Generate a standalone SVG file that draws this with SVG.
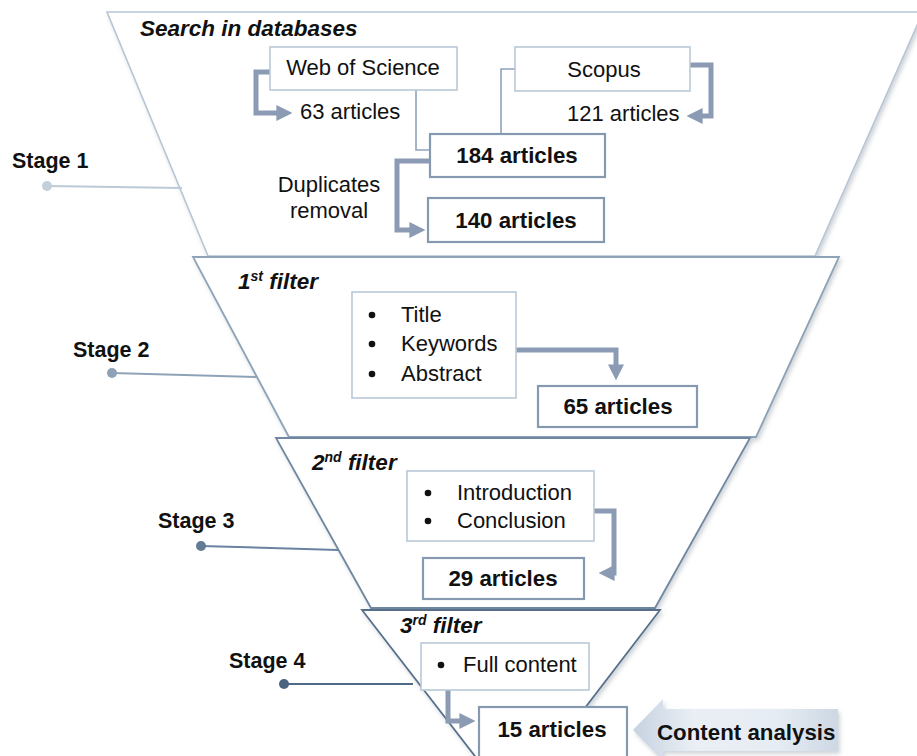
<svg xmlns="http://www.w3.org/2000/svg" width="917" height="756" viewBox="0 0 917 756">
  <defs>
    <filter id="shadow" x="-10%" y="-10%" width="120%" height="130%">
      <feDropShadow dx="2" dy="3" stdDeviation="2" flood-color="#7a8590" flood-opacity="0.35"/>
    </filter>
    <linearGradient id="ca-grad" x1="0" y1="0" x2="1" y2="0">
      <stop offset="0" stop-color="#c6d2e0"/>
      <stop offset="0.3" stop-color="#eaeff5"/>
      <stop offset="0.7" stop-color="#e6ecf3"/>
      <stop offset="1" stop-color="#cdd8e4"/>
    </linearGradient>
    <marker id="head" viewBox="0 0 10 10" refX="6" refY="5" markerWidth="3.2" markerHeight="3.2" orient="auto" markerUnits="strokeWidth">
      <path d="M0,0 L10,5 L0,10 Z" fill="#8a9bb3"/>
    </marker>
  </defs>
  <style>
    text { font-family: "Liberation Sans", Arial, sans-serif; fill: #111; }
    .stage { font-size: 21.5px; font-weight: bold; }
    .title { font-size: 22.5px; font-weight: bold; font-style: italic; }
    .reg { font-size: 22px; }
    .bold { font-size: 22.3px; font-weight: bold; }
    .box-light { fill: #fff; stroke: #b9c8d8; stroke-width: 1.6; }
    .box-dark { fill: #fff; stroke: #8599b1; stroke-width: 2.2; }
    .thin { fill: none; stroke: #8ea3ba; stroke-width: 1.6; }
    .thick { fill: none; stroke: #8a9bb3; stroke-width: 5; marker-end: url(#head); }
  </style>

  <rect width="917" height="756" fill="#ffffff"/>

  <!-- funnel layers -->
  <g id="funnel">
    <polygon points="107,12 923,12 815,256 208,256" fill="#fff" stroke="#b7c6d5" stroke-width="1.6" filter="url(#shadow)"/>
    <polygon points="193,257 839,257 756,437 289,437" fill="#fff" stroke="#8fa3b8" stroke-width="1.8" filter="url(#shadow)"/>
    <polygon points="276,438 750,438 655,608 371,608" fill="#fff" stroke="#6f87a0" stroke-width="1.8" filter="url(#shadow)"/>
    <polygon points="362,610 660,610 545,760 478,760" fill="#fff" stroke="#56708c" stroke-width="1.8" filter="url(#shadow)"/>
  </g>

  <!-- stage markers -->
  <g id="stage1">
    <line x1="47" y1="186" x2="182" y2="188" stroke="#bccad8" stroke-width="2"/>
    <circle cx="47" cy="186" r="5" fill="#c3cfdb"/>
    <text class="stage" x="12" y="168">Stage 1</text>
  </g>
  <g id="stage2">
    <line x1="112" y1="373" x2="257" y2="377" stroke="#8fa3b8" stroke-width="2"/>
    <circle cx="112" cy="373" r="5" fill="#8ea2b7"/>
    <text class="stage" x="73" y="357">Stage 2</text>
  </g>
  <g id="stage3">
    <line x1="201" y1="546" x2="338" y2="550" stroke="#6b83a0" stroke-width="2"/>
    <circle cx="201" cy="546" r="5" fill="#637c96"/>
    <text class="stage" x="158" y="528">Stage 3</text>
  </g>
  <g id="stage4">
    <line x1="284" y1="684" x2="413" y2="684" stroke="#4f6a86" stroke-width="2"/>
    <circle cx="284" cy="684" r="5" fill="#4a6480"/>
    <text class="stage" x="229" y="668">Stage 4</text>
  </g>

  <!-- section titles -->
  <g id="titles">
    <text class="title" x="140" y="36">Search in databases</text>
    <text class="title" x="238" y="289">1<tspan font-size="14" dy="-8">st</tspan><tspan dy="8"> filter</tspan></text>
    <text class="title" x="312" y="470">2<tspan font-size="14" dy="-8">nd</tspan><tspan dy="8"> filter</tspan></text>
    <text class="title" x="400" y="633">3<tspan font-size="14" dy="-8">rd</tspan><tspan dy="8"> filter</tspan></text>
  </g>

  <!-- connectors -->
  <g id="connectors">
    <path class="thin" d="M416,90 V150 H430"/>
    <path class="thin" d="M501,134 V69 H515"/>
    <path class="thick" d="M270,72 H256 V113 H286"/>
    <path class="thick" d="M690,65 H711 V116 H693"/>
    <path class="thick" d="M430,161 H397 V230 H419"/>
    <path class="thick" d="M516,350 H616 V374"/>
    <path class="thick" d="M594,511 H614 V573 H605"/>
    <path class="thick" d="M448,690 V721 H469"/>
  </g>

  <!-- stage 1 nodes -->
  <g id="web-of-science">
    <rect class="box-light" x="270" y="47" width="187" height="43"/>
    <text class="reg" x="363" y="75" text-anchor="middle" font-size="20.5">Web of Science</text>
  </g>
  <g id="scopus">
    <rect class="box-light" x="515" y="47" width="175" height="44"/>
    <text class="reg" x="604" y="77" text-anchor="middle" font-size="21.5">Scopus</text>
  </g>
  <g id="wos-count">
    <text class="reg" x="300" y="119">63 articles</text>
  </g>
  <g id="scopus-count">
    <text class="reg" x="567" y="121">121 articles</text>
  </g>
  <g id="a184">
    <rect class="box-dark" x="430" y="134" width="175" height="43"/>
    <text class="bold" x="517" y="163" text-anchor="middle">184 articles</text>
  </g>
  <g id="duplicates">
    <text class="reg" x="329" y="192" text-anchor="middle">Duplicates</text>
    <text class="reg" x="329" y="218" text-anchor="middle">removal</text>
  </g>
  <g id="a140">
    <rect class="box-dark" x="428" y="198" width="176" height="44"/>
    <text class="bold" x="516" y="228" text-anchor="middle">140 articles</text>
  </g>

  <!-- stage 2 nodes -->
  <g id="filter1-criteria">
    <rect class="box-light" x="352" y="292" width="164" height="106"/>
    <circle cx="372" cy="315" r="3.3" fill="#111"/>
    <circle cx="372" cy="344" r="3.3" fill="#111"/>
    <circle cx="372" cy="374" r="3.3" fill="#111"/>
    <text class="reg" x="401" y="322">Title</text>
    <text class="reg" x="401" y="351">Keywords</text>
    <text class="reg" x="401" y="381">Abstract</text>
  </g>
  <g id="a65">
    <rect class="box-dark" x="538" y="386" width="159" height="41"/>
    <text class="bold" x="618" y="414" text-anchor="middle">65 articles</text>
  </g>

  <!-- stage 3 nodes -->
  <g id="filter2-criteria">
    <rect class="box-light" x="407" y="471" width="187" height="70"/>
    <circle cx="428" cy="493" r="3.3" fill="#111"/>
    <circle cx="428" cy="521" r="3.3" fill="#111"/>
    <text class="reg" x="457" y="500">Introduction</text>
    <text class="reg" x="457" y="528">Conclusion</text>
  </g>
  <g id="a29">
    <rect class="box-dark" x="423" y="558" width="161" height="41"/>
    <text class="bold" x="503" y="586" text-anchor="middle">29 articles</text>
  </g>

  <!-- stage 4 nodes -->
  <g id="filter3-criteria">
    <rect class="box-light" x="421" y="643" width="168" height="47"/>
    <circle cx="441" cy="665" r="3.3" fill="#111"/>
    <text class="reg" x="463" y="672" font-size="21">Full content</text>
  </g>
  <g id="a15">
    <rect class="box-dark" x="479" y="707" width="148" height="52"/>
    <text class="bold" x="552" y="737" text-anchor="middle">15 articles</text>
  </g>
  <g id="content-analysis">
    <polygon points="633,730 663,699 663,709 838,709 838,751 663,751 663,761" fill="url(#ca-grad)" filter="url(#shadow)"/>
    <text class="bold" x="657" y="740" font-size="23">Content analysis</text>
  </g>
</svg>
